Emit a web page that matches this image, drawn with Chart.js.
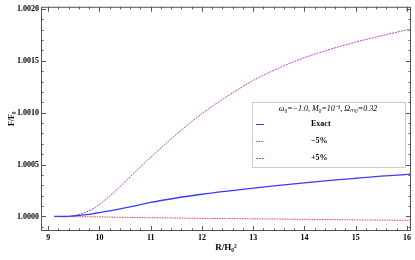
<!DOCTYPE html>
<html>
<head>
<meta charset="utf-8">
<script src="https://cdn.jsdelivr.net/npm/chart.js@4/dist/chart.umd.min.js"></script>
<style>
  html, body { margin: 0; padding: 0; background: #fff; }
  #wrap { width: 415px; height: 260px; position: relative; }
</style>
</head>
<body>
<div id="wrap"><canvas id="fChart"></canvas></div>
<script>
// R/H0^2 sample points and F/F0 - 1 (in units of 1e-4)
const rValues = [9.12, 9.3, 9.53, 9.75, 9.92, 10.1, 10.31, 10.5, 10.7, 11.0, 11.5, 12.0, 12.5, 13.0, 13.5, 14.0, 14.5, 15.0, 15.5, 16.1];
const exactDelta = [0, 0, 0.07, 0.18, 0.31, 0.46, 0.63, 0.83, 1.03, 1.35, 1.78, 2.14, 2.45, 2.74, 3.0, 3.24, 3.47, 3.68, 3.88, 4.08];
const minusDelta = [0, 0, -0.02, -0.03, -0.04, -0.05, -0.07, -0.08, -0.1, -0.12, -0.15, -0.18, -0.2, -0.23, -0.25, -0.28, -0.3, -0.33, -0.35, -0.38];
const plusDelta = [0, -0.05, 0.1, 0.45, 0.88, 1.55, 2.45, 3.35, 4.3, 5.7, 7.9, 9.9, 11.6, 13.1, 14.3, 15.3, 16.1, 16.8, 17.4, 18.1];

const xTicks = [9, 10, 11, 12, 13, 14, 15, 16];
const yTicks = [1.0000, 1.0005, 1.0010, 1.0015, 1.0020];

const seriesLabels = ['Exact', '\u22125%', '+5%'];
const legendTitle = '\u03c9\u2080=\u22121.0, M\u2080=10\u207b\u00b9, \u03a9\u2098\u2080=0.32';

const serif = 'Liberation Serif';

function toPoints(deltas) {
    return rValues.map((r, i) => ({ x: r, y: 1 + deltas[i] * 1e-4 }));
}

// frame with inward ticks, Mathematica style
const framePlugin = {
    id: 'frame',
    afterDraw(chart) {
        const { ctx, chartArea: a, scales } = chart;
        const xs = scales.x, ys = scales.y;
        ctx.save();
        ctx.strokeStyle = '#555';
        ctx.lineWidth = 1;
        ctx.strokeRect(a.left + 0.5, a.top + 0.5, a.right - a.left - 1, a.bottom - a.top - 1);
        ctx.beginPath();
        for (let v = 8.8; v <= 16.2; v += 0.2) {
            const vv = Math.round(v * 10) / 10;
            if (vv < xs.min || vv > xs.max) continue;
            const px = Math.round(xs.getPixelForValue(vv)) + 0.5;
            const major = Math.abs(vv - Math.round(vv)) < 1e-6;
            const len = major ? 5 : 2.5;
            ctx.moveTo(px, a.bottom); ctx.lineTo(px, a.bottom - len);
            ctx.moveTo(px, a.top); ctx.lineTo(px, a.top + len);
        }
        for (let k = -2; k <= 21; k++) {
            const vv = 1 + k * 1e-4;
            if (vv < ys.min || vv > ys.max) continue;
            const py = Math.round(ys.getPixelForValue(vv)) + 0.5;
            const major = k % 5 === 0;
            const len = major ? 5 : 2.5;
            ctx.moveTo(a.left, py); ctx.lineTo(a.left + len, py);
            ctx.moveTo(a.right, py); ctx.lineTo(a.right - len, py);
        }
        ctx.stroke();

        // legend box
        const bx = 252, by = 102, bw = 153, bh = 65;
        ctx.fillStyle = '#fff';
        ctx.fillRect(bx, by, bw, bh);
        ctx.strokeStyle = '#ccc';
        ctx.strokeRect(bx + 0.5, by + 0.5, bw, bh);
        ctx.fillStyle = '#000';
        ctx.textBaseline = 'middle';
        ctx.textAlign = 'center';
        ctx.font = 'italic 8px "' + serif + '"';
        ctx.fillText(legendTitle, 328, 109);
        ctx.textAlign = 'left';
        ctx.font = 'bold 8px "' + serif + '"';
        const rows = [124, 141, 158];
        chart.data.datasets.forEach((ds, i) => {
            ctx.strokeStyle = ds.borderColor;
            ctx.lineWidth = 1;
            ctx.setLineDash(ds.borderDash || []);
            ctx.beginPath();
            ctx.moveTo(256, rows[i] + 0.5);
            ctx.lineTo(264, rows[i] + 0.5);
            ctx.stroke();
            ctx.setLineDash([]);
            ctx.fillText(seriesLabels[i], 311, rows[i]);
        });
        ctx.restore();
    }
};

const ctx = document.getElementById('fChart').getContext('2d');
new Chart(ctx, {
    type: 'line',
    data: {
        datasets: [
            {
                label: seriesLabels[0],
                data: toPoints(exactDelta),
                borderColor: '#3b3bff',
                borderWidth: 1.3,
                pointRadius: 0,
                cubicInterpolationMode: 'monotone'
            },
            {
                label: seriesLabels[1],
                data: toPoints(minusDelta),
                borderColor: '#f04040',
                borderWidth: 1,
                borderDash: [1.5, 1],
                pointRadius: 0,
                cubicInterpolationMode: 'monotone'
            },
            {
                label: seriesLabels[2],
                data: toPoints(plusDelta),
                borderColor: '#b446c4',
                borderWidth: 1,
                borderDash: [2, 1],
                pointRadius: 0,
                cubicInterpolationMode: 'monotone'
            }
        ]
    },
    options: {
        responsive: true,
        maintainAspectRatio: false,
        animation: false,
        layout: { padding: { top: 2, right: 4, left: 0, bottom: 0 } },
        plugins: {
            legend: { display: false },
            tooltip: { enabled: false }
        },
        scales: {
            x: {
                type: 'linear',
                min: 8.86,
                max: 16.08,
                grid: { display: false, drawTicks: false },
                border: { display: false },
                afterBuildTicks: (s) => { s.ticks = xTicks.map(v => ({ value: v })); },
                afterFit: (s) => { s.height = 29; },
                ticks: {
                    color: '#000',
                    padding: 2,
                    maxRotation: 0,
                    font: { family: serif, weight: 'bold', size: 8 },
                    callback: (v) => String(v)
                },
                title: {
                    display: true,
                    text: 'R/H\u2080\u00b2',
                    color: '#000',
                    padding: { top: 0, bottom: 7 },
                    font: { family: serif, weight: 'bold', size: 9 }
                }
            },
            y: {
                type: 'linear',
                min: 0.99986,
                max: 1.00202,
                grid: { display: false, drawTicks: false },
                border: { display: false },
                afterBuildTicks: (s) => { s.ticks = yTicks.map(v => ({ value: v })); },
                afterFit: (s) => { s.width = 41; },
                ticks: {
                    color: '#000',
                    padding: 2,
                    font: { family: serif, weight: 'bold', size: 8 },
                    callback: (v) => Number(v).toFixed(4)
                },
                title: {
                    display: true,
                    text: 'F/F\u2080',
                    color: '#000',
                    padding: { top: 7, bottom: 0 },
                    font: { family: serif, weight: 'bold', size: 8 }
                }
            }
        }
    },
    plugins: [framePlugin]
});
</script>
</body>
</html>
